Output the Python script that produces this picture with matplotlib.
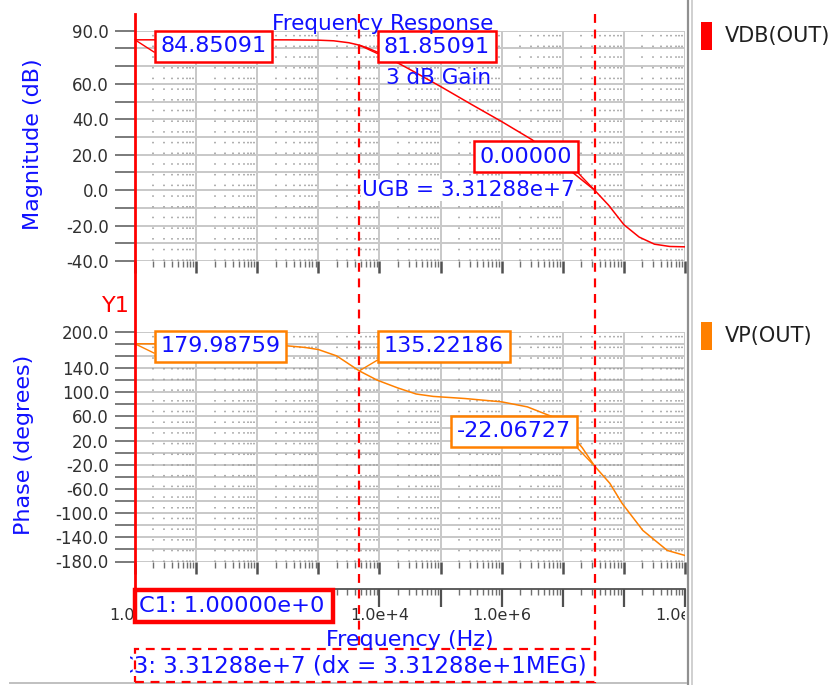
import numpy as np
import matplotlib
matplotlib.use("Agg")
import matplotlib.pyplot as plt
from matplotlib.patches import Rectangle
from matplotlib.lines import Line2D
from matplotlib.transforms import blended_transform_factory, Bbox, TransformedBbox
from matplotlib.ticker import FixedLocator, FuncFormatter, NullFormatter

# ---------------- data ----------------
mag_freq_exp = [0, 1, 2, 2.5, 3, 3.25, 3.5, 3.67, 3.8, 4, 4.5, 5, 5.5, 6, 6.5,
                7, 7.25, 7.52, 7.75, 8, 8.25, 8.5, 8.75, 9]
mag_db = [84.85, 84.85, 84.85, 84.83, 84.66, 84.3, 83.2, 81.85, 80.3, 77.4, 68.1,
          58.5, 48.5, 38.7, 28.4, 14.5, 7.5, 0.0, -8.5, -19.5, -26.5, -30.5, -31.8, -32.0]

phase_freq_exp = [0, 1, 2, 2.5, 2.78, 3.0, 3.3, 3.67, 3.96, 4.3, 4.6, 4.88, 5.4, 6.0,
                  6.42, 6.84, 7.1, 7.32, 7.52, 7.77, 7.97, 8.31, 8.71, 9]
phase_deg = [179.99, 179.88, 178.8, 176.5, 174.0, 170.5, 160.0, 135.22, 120.0, 107.0,
             97.0, 93.0, 89.5, 84.0, 75.7, 59.0, 35.0, 8.0, -22.07, -50.7, -83.8,
             -128.6, -161.7, -170.0]

mag_tick_labels = [90, 60, 40, 20, 0, -20, -40]
phase_tick_labels = [200, 140, 100, 60, 20, -20, -60, -100, -140, -180]
freq_label_values = [1e0, 1e4, 1e6, 1e9]
freq_label_texts = ["1.0", "1.0e+4", "1.0e+6", "1.0e+9"]

cursor_c1 = 1.0
cursor_c2 = 10 ** 3.67
cursor_c3 = 3.31288e7

mag_markers = [("84.85091", cursor_c1, 84.85091), ("81.85091", cursor_c2, 81.85091),
               ("0.00000", cursor_c3, 0.0)]
phase_markers = [("179.98759", cursor_c1, 179.98759), ("135.22186", cursor_c2, 135.22186),
                 ("-22.06727", cursor_c3, -22.06727)]

# ---------------- styling ----------------
W, H, DPI = 835, 685, 100
RED = "#ff0000"
ORANGE = "#ff8000"
BLUE = "#1010ff"
GRID = "#c8c8c8"
TICKC = "#707070"
LABC = "#303030"
plt.rcParams["font.family"] = ["DejaVu Sans"]


def fx(px):
    return px / W


def fy(py):
    return 1 - py / H


def pt(px):
    return px * 72.0 / DPI


fig = plt.figure(figsize=(W / DPI, H / DPI), dpi=DPI, facecolor="white")

L, R = 135, 685
ax1 = fig.add_axes([fx(L), fy(261), (R - L) / W, (261 - 30.7) / H])
ax2 = fig.add_axes([fx(L), fy(561.5), (R - L) / W, (561.5 - 331.7) / H])
ax3 = fig.add_axes([fx(L), fy(630), (R - L) / W, (630 - 589) / H])

decades = [10.0 ** k for k in range(10)]
minors = [m * 10.0 ** k for k in range(9) for m in range(2, 10)]


def setup_panel(ax, ylo, yhi, step, labels):
    ax.set_xscale("log")
    ax.set_xlim(1, 1e9)
    ax.set_ylim(ylo, yhi)
    for s in ax.spines.values():
        s.set_visible(False)
    ax.patch.set_alpha(0)
    levels = np.arange(ylo, yhi + 0.1, step)
    for v in levels:
        ax.axhline(v, color=GRID, lw=1.4, zorder=0)
    for d in decades:
        ax.axvline(d, color=GRID, lw=1.4, zorder=0)
    for m in minors:
        ax.axvline(m, color="#9a9a9a", lw=1.1, ls=(0, (1, 6)), zorder=0)
    ax.yaxis.set_major_locator(FixedLocator(levels))
    ax.yaxis.set_major_formatter(
        FuncFormatter(lambda v, p: f"{v:.1f}" if round(v) in labels else ""))
    ax.tick_params(axis="y", direction="out", length=pt(20), width=1.3, color=TICKC,
                   pad=pt(6), labelsize=12, labelcolor=LABC)
    ax.xaxis.set_major_locator(FixedLocator(decades))
    ax.xaxis.set_minor_locator(FixedLocator(minors))
    ax.xaxis.set_major_formatter(NullFormatter())
    ax.xaxis.set_minor_formatter(NullFormatter())
    ax.tick_params(axis="x", which="major", direction="out", length=pt(12), width=1.8,
                   color="#505050")
    ax.tick_params(axis="x", which="minor", direction="out", length=pt(6), width=1.0,
                   color="#707070")


setup_panel(ax1, -40, 90, 10, mag_tick_labels)
setup_panel(ax2, -180, 200, 20, phase_tick_labels)

mag_f = 10.0 ** np.array(mag_freq_exp)
ph_f = 10.0 ** np.array(phase_freq_exp)
ax1.plot(mag_f, mag_db, color=RED, lw=1.1, zorder=2)
ax2.plot(ph_f, phase_deg, color=ORANGE, lw=1.1, zorder=2)

# ---------------- marker boxes ----------------
MFS = 16
PAD = 0.25
padpx = PAD * MFS * DPI / 72.0
# box corner offsets from the marked point, in pixels (y up)
mag_offsets = [((20, -22), "left"), ((19, -17), "left"), ((-17, 18), "right")]
ph_offsets = [((20, -18), "left"), ((19, 9), "left"), ((-18, 19), "right")]


def add_markers(ax, markers, offsets, color):
    for (txt, xf, yv), ((bx, by), ha) in zip(markers, offsets):
        sx = padpx if ha == "left" else -padpx
        ax.annotate(txt, xy=(xf, yv), xytext=(bx + sx, by + padpx),
                    textcoords="offset pixels", ha=ha, va="bottom", color=BLUE,
                    fontsize=MFS, annotation_clip=False, zorder=6,
                    bbox=dict(boxstyle=f"square,pad={PAD}", fc="white", ec=color, lw=1.8),
                    arrowprops=dict(arrowstyle="-", color=color, lw=1.0, shrinkA=0,
                                    shrinkB=0, relpos=(0, 0) if ha == "left" else (1, 0)))


add_markers(ax1, mag_markers, mag_offsets, RED)
add_markers(ax2, phase_markers, ph_offsets, ORANGE)

# ---------------- frequency axis ----------------
ax3.set_xscale("log")
ax3.set_xlim(1, 1e9)
ax3.set_ylim(0, 1)
ax3.patch.set_visible(False)
for k, s in ax3.spines.items():
    s.set_visible(k == "top")
ax3.spines["top"].set_color("#505050")
ax3.spines["top"].set_linewidth(1.3)
ax3.set_yticks([])
ax3.xaxis.set_ticks_position("top")
ax3.xaxis.set_major_locator(FixedLocator(decades))
ax3.xaxis.set_minor_locator(FixedLocator(minors))
ax3.xaxis.set_major_formatter(NullFormatter())
ax3.xaxis.set_minor_formatter(NullFormatter())
ax3.tick_params(axis="x", which="major", direction="in", length=pt(18), width=1.6,
                color="#505050")
ax3.tick_params(axis="x", which="minor", direction="in", length=pt(6), width=1.0,
                color="#707070")
tr3 = blended_transform_factory(ax3.transData, ax3.transAxes)
for v, t in zip(freq_label_values, freq_label_texts):
    first = v == min(freq_label_values)
    last = v == max(freq_label_values)
    ax3.text(v, (630 - 616) / 41.0, t, transform=tr3,
             ha="right" if first else "center", va="center",
             fontsize=11.5, color=LABC, clip_on=last, zorder=1)

# ---------------- cursors ----------------
btr = blended_transform_factory(ax1.transData, fig.transFigure)
fig.add_artist(Line2D([cursor_c1, cursor_c1], [fy(14), fy(591)], transform=btr,
                      color=RED, lw=2.0, zorder=4))
fig.add_artist(Line2D([cursor_c2, cursor_c2], [fy(14), fy(649)], transform=btr,
                      color=RED, lw=1.6, ls=(0, (4, 3)), zorder=4))
fig.add_artist(Line2D([cursor_c3, cursor_c3], [fy(14), fy(682)], transform=btr,
                      color=RED, lw=1.6, ls=(0, (4, 3)), zorder=4))

# C1 box
fig.add_artist(Rectangle((fx(135), fy(622)), (333 - 135) / W, (622 - 590) / H,
                         transform=fig.transFigure, fc="white", ec=RED, lw=3.2, zorder=7))
fig.text(fx(139), fy(606), "C1: 1.00000e+0", color=BLUE, fontsize=16.2, ha="left",
         va="center", zorder=8)

# C3 dashed box
fig.add_artist(Rectangle((fx(135), fy(682)), (595 - 135) / W, (682 - 649) / H,
                         transform=fig.transFigure, fill=False, ec=RED, lw=1.6,
                         ls=(0, (4, 3)), zorder=4))
t3 = fig.text(fx(118), fy(666), "C3: 3.31288e+7 (dx = 3.31288e+1MEG)", color=BLUE,
              fontsize=16.5, ha="left", va="center", zorder=5)
t3.set_clip_box(TransformedBbox(Bbox.from_extents(fx(130), 0, 1, 1), fig.transFigure))
t3.set_clip_on(True)

# ---------------- texts ----------------
fig.text(fx(383), fy(24), "Frequency Response", color=BLUE, fontsize=15.5, ha="center",
         va="center", zorder=5)
fig.text(fx(386), fy(78), "3 dB Gain", color=BLUE, fontsize=15.5, ha="left",
         va="center", zorder=5)
fig.text(fx(362), fy(190), "UGB = 3.31288e+7", color=BLUE, fontsize=15.5, ha="left",
         va="center", zorder=5,
         bbox=dict(boxstyle="square,pad=0.05", fc="white", ec="none"))
fig.text(fx(33), fy(144), "Magnitude (dB)", color=BLUE, fontsize=16, rotation=90,
         ha="center", va="center")
fig.text(fx(24), fy(445), "Phase (degrees)", color=BLUE, fontsize=16, rotation=90,
         ha="center", va="center")
fig.text(fx(116), fy(306), "Y1", color=RED, fontsize=16, ha="center", va="center")
fig.text(fx(410), fy(640), "Frequency (Hz)", color=BLUE, fontsize=16, ha="center",
         va="center", zorder=5)

# ---------------- legend area ----------------
fig.add_artist(Line2D([fx(688), fx(688)], [0, 1], transform=fig.transFigure,
                      color="#909090", lw=1.6))
fig.add_artist(Line2D([fx(691.5), fx(691.5)], [0, 1], transform=fig.transFigure,
                      color="#d0d0d0", lw=1.4))
fig.add_artist(Line2D([fx(10), fx(686)], [fy(683), fy(683)], transform=fig.transFigure,
                      color="#c0c0c0", lw=1.4))
legend_items = [("VDB(OUT)", RED, 36), ("VP(OUT)", ORANGE, 336)]
for name, col, yc in legend_items:
    fig.add_artist(Rectangle((fx(701), fy(yc + 14)), 11 / W, 28 / H,
                             transform=fig.transFigure, fc=col, ec="none"))
    fig.text(fx(725), fy(yc), name, color="#202020", fontsize=15, ha="left",
             va="center")

fig.savefig("out.png", dpi=DPI, facecolor="white")
